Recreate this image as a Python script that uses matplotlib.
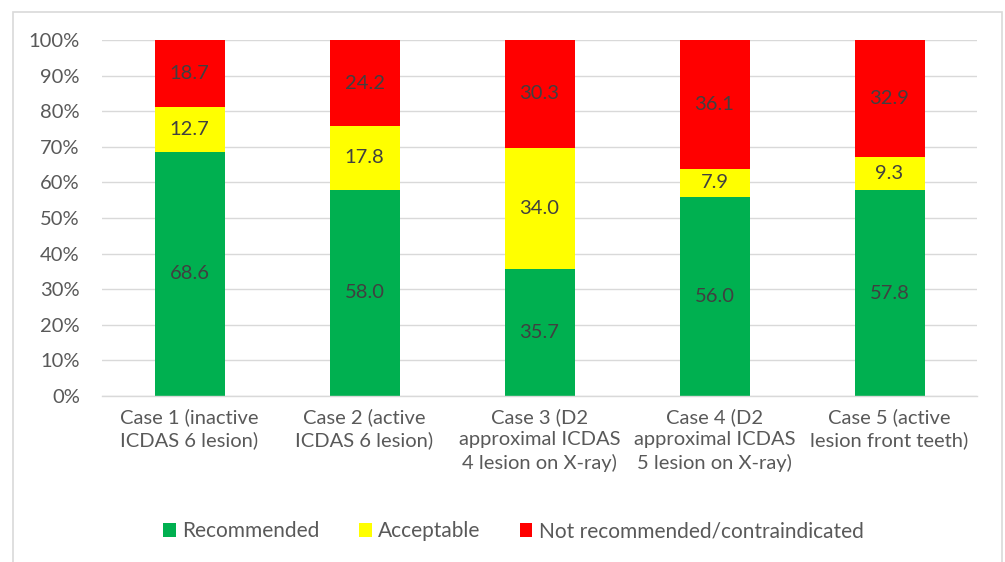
import numpy as np
import matplotlib.pyplot as plt
from matplotlib.patches import Rectangle

plt.rcParams['font.family'] = ['Lato', 'DejaVu Sans']

cases = ['Case 1 (inactive\nICDAS 6 lesion)',
         'Case 2 (active\nICDAS 6 lesion)',
         'Case 3 (D2\napproximal ICDAS\n4 lesion on X-ray)',
         'Case 4 (D2\napproximal ICDAS\n5 lesion on X-ray)',
         'Case 5 (active\nlesion front teeth)']
recommended = [68.6, 58.0, 35.7, 56.0, 57.8]
acceptable = [12.7, 17.8, 34.0, 7.9, 9.3]
not_recommended = [18.7, 24.2, 30.3, 36.1, 32.9]

series = [('Recommended', recommended, '#00b050'),
          ('Acceptable', acceptable, '#ffff00'),
          ('Not recommended/contraindicated', not_recommended, '#ff0000')]

fig = plt.figure(figsize=(10.05, 5.62), dpi=100)
fig.patches.append(Rectangle((13/1005, -0.01), 989/1005, 1 - 12/562 + 0.01,
                             transform=fig.transFigure, fill=False,
                             edgecolor='#d9d9d9', linewidth=1.2))
ax = fig.add_axes([102/1005, 1 - 396/562, 875/1005, 356/562])

x = np.arange(len(cases))
bottom = np.zeros(len(cases))
for name, vals, col in series:
    vals = np.array(vals)
    ax.bar(x, vals, 0.4, bottom=bottom, color=col, label=name, zorder=2)
    for xi, b, v in zip(x, bottom, vals):
        ax.text(xi, b + v / 2, '%.1f' % v, ha='center', va='center',
                fontsize=14.5, color='#404040', zorder=3)
    bottom += vals

ax.set_xlim(-0.5, len(cases) - 0.5)
ax.set_ylim(0, 100)
ax.set_yticks(np.arange(0, 101, 10))
ax.set_yticklabels(['%d%%' % v for v in range(0, 101, 10)])
ax.set_xticks(x)
ax.set_xticklabels(cases, linespacing=1.35, va='top')
ax.yaxis.grid(True, color='#d9d9d9', linewidth=1, zorder=0)
for s in ['top', 'right', 'left']:
    ax.spines[s].set_visible(False)
ax.spines['bottom'].set_color('#d9d9d9')
ax.spines['bottom'].set_linewidth(1)
ax.tick_params(length=0, labelsize=14.5, colors='#595959')
ax.tick_params(axis='x', pad=9)
ax.tick_params(axis='y', pad=16)

ax.legend(loc='center', bbox_to_anchor=(0.5 - 26/875, -0.38), ncol=3, frameon=False,
          fontsize=15, labelcolor='#595959', handlelength=0.6, handleheight=0.6,
          handletextpad=0.3, columnspacing=1.9)

plt.savefig('out.png', dpi=100)
